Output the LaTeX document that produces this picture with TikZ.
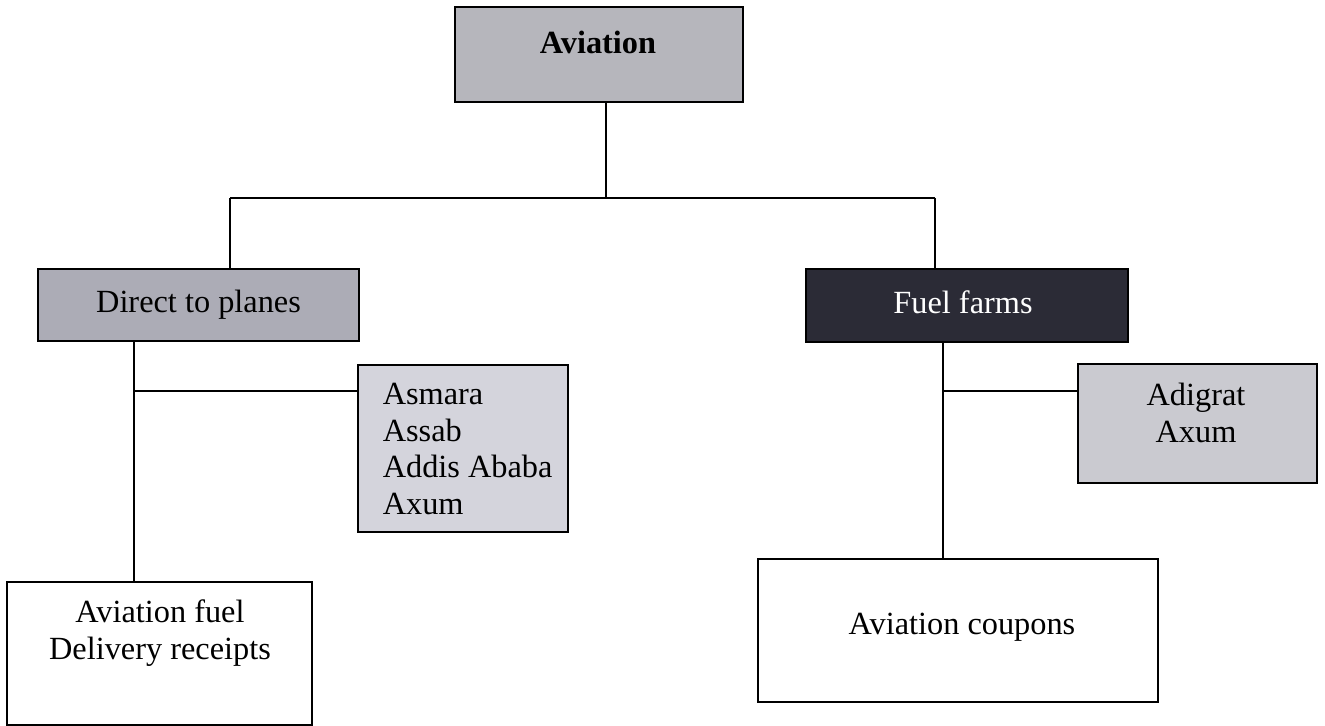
\documentclass[tikz,border=0pt]{standalone}
\usepackage{fontspec}
\setmainfont{Liberation Serif}
\definecolor{headgray}{RGB}{182,182,188}
\definecolor{branchgray}{RGB}{172,172,182}
\definecolor{listgray}{RGB}{212,212,220}
\definecolor{sitegray}{RGB}{202,202,208}
\definecolor{farmdark}{RGB}{43,43,54}
\begin{document}
\begin{tikzpicture}[x=0.02cm,y=-0.02cm,line width=0.9pt,
		font=\fontsize{18.4}{21}\selectfont,
		box/.style={draw,rectangle,inner sep=0pt},
		txt/.style={inner sep=0pt,align=center}]
		\useasboundingbox (0,0) rectangle (1325,726);

		% boxes
		\node[box,fill=headgray,minimum width=5.76cm,minimum height=1.9cm] (avi) at (599,54.5) {};
		\node[txt] (avitxt) at (598,42) {\textbf{Aviation}};
		\node[box,fill=branchgray,minimum width=6.42cm,minimum height=1.44cm] (direct) at (198.5,305) {Direct to planes};
		\node[box,fill=farmdark,text=white,minimum width=6.44cm,minimum height=1.46cm] (farms) at (967,305.5) {};
		\node[txt,text=white] (farmtxt) at (963,302) {Fuel farms};
		\node[box,fill=listgray,minimum width=4.2cm,minimum height=3.34cm] (cities) at (463,448.5) {};
		\node[txt,align=left,anchor=west] (citytxt) at (382,449) {Asmara\\Assab\\Addis Ababa\\Axum};
		\node[box,fill=sitegray,minimum width=4.78cm,minimum height=2.38cm] (depots) at (1197.5,423.5) {};
		\node[txt] (depottxt) at (1196,413) {Adigrat\\Axum};
		\node[box,fill=white,minimum width=6.1cm,minimum height=2.86cm] (receipts) at (159.5,653.5) {};
		\node[txt] (receipttxt) at (160,633) {Aviation fuel\\Delivery receipts};
		\node[box,fill=white,minimum width=8cm,minimum height=2.86cm] (coupons) at (958,630.5) {};
		\node[txt] (coupontxt) at (962,627) {Aviation coupons};

		% connectors
		\coordinate (hub) at (606,198);
		\coordinate (l) at (230,198);
		\coordinate (r) at (935,198);
		\coordinate (lstem) at (134,391);
		\coordinate (rstem) at (943,391);
		\draw (avi.south -| hub) -- (hub);
		\draw (l) -- (r);
		\draw (l) -- (l |- direct.north);
		\draw (r) -- (r |- farms.north);
		\draw (lstem |- direct.south) -- (lstem |- receipts.north);
		\draw (lstem) -- (cities.west |- lstem);
		\draw (rstem |- farms.south) -- (rstem |- coupons.north);
		\draw (rstem) -- (depots.west |- rstem);
\end{tikzpicture}
\end{document}
